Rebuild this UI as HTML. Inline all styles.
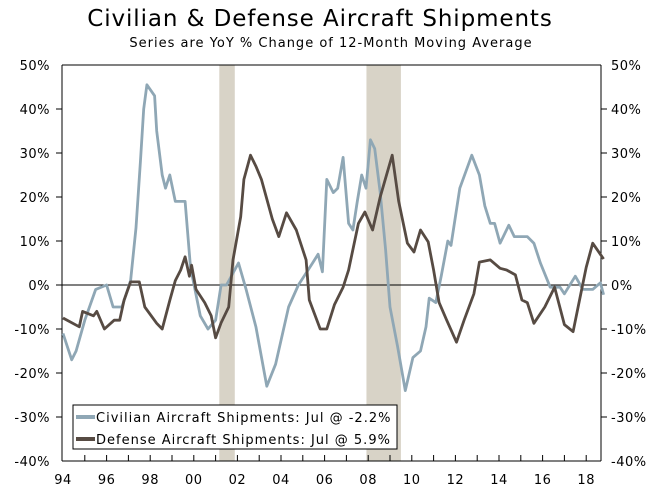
<!DOCTYPE html>
<html><head><meta charset="utf-8">
<style>
html,body{margin:0;padding:0;background:#fff;}
svg{display:block;font-family:"DejaVu Sans","Liberation Sans",sans-serif;}
</style></head>
<body>
<svg id="chart" width="661" height="490" viewBox="0 0 661 490" xmlns="http://www.w3.org/2000/svg">
<text x="320" y="26" text-anchor="middle" font-size="23" letter-spacing="0.9" fill="#000">Civilian &amp; Defense Aircraft Shipments</text>
<text x="331" y="47" text-anchor="middle" font-size="13" letter-spacing="1" fill="#000">Series are YoY % Change of 12-Month Moving Average</text>
<g id="recessions"></g>
<g id="axes"></g>
<g id="series"></g>
<g>
<rect x="73" y="405" width="324" height="44" fill="#fff" stroke="#000" stroke-width="1"/>
<line x1="76" y1="417" x2="95" y2="417" stroke="#8fa7b5" stroke-width="4"/>
<text x="96" y="422" font-size="13" letter-spacing="1">Civilian Aircraft Shipments: Jul @ -2.2%</text>
<line x1="76" y1="439" x2="95" y2="439" stroke="#574b43" stroke-width="4"/>
<text x="96" y="444" font-size="13" letter-spacing="1">Defense Aircraft Shipments: Jul @ 5.9%</text>
</g>
</svg>
<script>
const civYears=[1994.0,1994.4,1994.6,1995.0,1995.5,1996.0,1996.3,1996.7,1997.1,1997.35,1997.55,1997.7,1997.85,1998.2,1998.3,1998.55,1998.7,1998.9,1999.15,1999.6,1999.85,2000.3,2000.65,2001.0,2001.25,2001.5,2002.05,2002.4,2002.85,2003.35,2003.75,2004.35,2004.8,2005.45,2005.7,2005.9,2006.1,2006.4,2006.6,2006.85,2007.1,2007.3,2007.5,2007.7,2007.9,2008.1,2008.3,2008.55,2008.8,2009.0,2009.35,2009.7,2010.05,2010.4,2010.65,2010.8,2011.1,2011.35,2011.65,2011.8,2012.2,2012.75,2013.1,2013.35,2013.6,2013.8,2014.05,2014.45,2014.7,2015.3,2015.6,2015.9,2016.35,2016.8,2017.0,2017.5,2017.85,2018.3,2018.65,2018.8];
const civValues=[-11,-17,-15,-8,-1,0,-5,-5,1,13,28,40,45.5,43,35,25,22,25,19,19,4,-7,-10,-8,0,0,5,-1,-9.5,-23,-18,-5,0,5,7,3,24,21,22,29,14,12.5,19,25,22,33,31,21,8,-5,-14,-24,-16.5,-15,-9.5,-3,-4,2,10,9,22,29.5,25,18,14,14,9.5,13.6,11,11,9.5,5,-0.5,-0.5,-2,2,-1,-1,0.5,-2.2];
const defYears=[1994.0,1994.75,1994.9,1995.4,1995.55,1995.9,1996.35,1996.6,1996.8,1997.1,1997.5,1997.75,1998.3,1998.55,1998.9,1999.15,1999.4,1999.6,1999.8,1999.9,2000.1,2000.5,2000.8,2001.0,2001.25,2001.6,2001.8,2002.15,2002.3,2002.6,2002.85,2003.1,2003.6,2003.9,2004.25,2004.7,2005.15,2005.3,2005.8,2006.1,2006.45,2006.85,2007.1,2007.55,2007.85,2008.2,2008.55,2009.1,2009.4,2009.8,2010.1,2010.4,2010.75,2011.0,2011.25,2011.6,2012.05,2012.4,2012.85,2013.1,2013.6,2014.05,2014.35,2014.75,2015.05,2015.3,2015.6,2016.1,2016.55,2017.0,2017.4,2017.75,2018.0,2018.3,2018.8];
const defValues=[-7.5,-9.5,-6,-7,-6,-10,-8,-8,-3.5,0.7,0.7,-5,-8.7,-10,-3.5,1,3.4,6.4,2,4.5,-1,-4,-7,-12,-8.6,-5,5.7,15.5,24,29.5,27,24,15,11,16.4,12.5,5.7,-3.4,-10,-10,-4.5,-0.5,3.4,14,16.6,12.5,20,29.5,19,9.5,7.5,12.5,9.8,3.4,-4,-8,-13,-8,-2,5.2,5.7,3.8,3.4,2.3,-3.4,-4,-8.7,-5,-0.5,-9,-10.6,-2,4,9.5,5.9];
const yTicks=[50,40,30,20,10,0,-10,-20,-30,-40];
const xTickLabels=["94","96","98","00","02","04","06","08","10","12","14","16","18"];
const recessionStarts=[2001.17,2007.92];
const recessionEnds=[2001.88,2009.5];

const NS="http://www.w3.org/2000/svg";
const L=62,R=601,T=65,B=461;
function xs(y){return 63+(y-1994)*21.8;}
function ys(v){return 285-v*4.4;}
function mk(tag,attrs,parent){const e=document.createElementNS(NS,tag);for(const k in attrs)e.setAttribute(k,attrs[k]);parent.appendChild(e);return e;}
const rec=document.getElementById('recessions');
recessionStarts.forEach((s,i)=>{
  const r=mk('rect',{x:xs(s),y:T,width:xs(recessionEnds[i])-xs(s),height:B-T,fill:'#d8d3c7'},rec);
  
  
});
const ax=document.getElementById('axes');
let b=mk('line',{x1:L,y1:T,x2:R,y2:T,stroke:'#000','stroke-width':1},ax);


b=mk('line',{x1:L,y1:T,x2:L,y2:B,stroke:'#000','stroke-width':1},ax);


b=mk('line',{x1:R,y1:T,x2:R,y2:B,stroke:'#000','stroke-width':1},ax);


b=mk('line',{x1:L,y1:B,x2:R,y2:B,stroke:'#000','stroke-width':1},ax);


b=mk('line',{x1:L,y1:ys(0),x2:R,y2:ys(0),stroke:'#000','stroke-width':1},ax);


yTicks.forEach(v=>{
  const y=ys(v);
  if(v!==50&&v!==-40){
    mk('line',{x1:L-6,y1:y,x2:L,y2:y,stroke:'#000'},ax);
    mk('line',{x1:R,y1:y,x2:R+6,y2:y,stroke:'#000'},ax);
  }
  const t=mk('text',{x:50,y:y+5,'text-anchor':'end','font-size':13,'letter-spacing':0.5},ax);
  t.textContent=v+'%';
  
  
  const t2=mk('text',{x:611,y:y+5,'text-anchor':'start','font-size':13,'letter-spacing':0.5},ax);
  t2.textContent=v+'%';
  
  
});
for(let yr=1995;yr<=2018;yr++){mk('line',{x1:xs(yr),y1:B-6,x2:xs(yr),y2:B,stroke:'#000'},ax);}
xTickLabels.forEach((lab,i)=>{
  const t=mk('text',{x:xs(1994+2*i),y:484,'text-anchor':'middle','font-size':13,'letter-spacing':0.5},ax);
  t.textContent=lab;
  
  
});
const ser=document.getElementById('series');
function line(yrs,vals,color,name){
  const d=yrs.map((y,i)=>(i?'L':'M')+xs(y).toFixed(1)+','+ys(vals[i]).toFixed(1)).join(' ');
  const p=mk('path',{d:d,fill:'none',stroke:color,'stroke-width':2.8,'stroke-linejoin':'round'},ser);
  
  
}
line(civYears,civValues,'#8fa7b5','civilian-series-line');
line(defYears,defValues,'#574b43','defense-series-line');
</script>
</body></html>
